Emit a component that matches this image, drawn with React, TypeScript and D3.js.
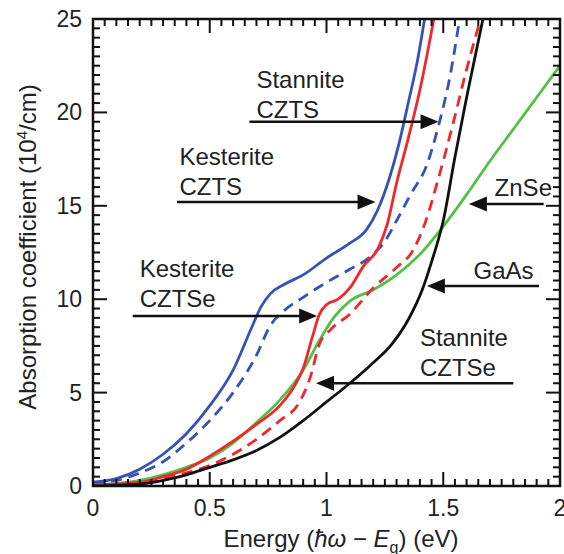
import React from 'react';
import * as d3 from 'd3';

// values (energy in eV, absorption in 10^4/cm)
const kesteriteCZTS: [number, number][] = [
  [0, 0.2], [0.1, 0.4], [0.2, 0.9], [0.3, 1.7], [0.4, 2.8], [0.5, 4.3], [0.6, 6.2],
  [0.68, 8.5], [0.72, 9.6], [0.76, 10.3], [0.82, 10.8], [0.9, 11.3], [1.0, 12.2],
  [1.1, 13.0], [1.17, 13.7], [1.22, 14.8], [1.27, 16.5], [1.31, 18.3], [1.35, 20.5],
  [1.39, 22.8], [1.42, 25],
];
const stanniteCZTS: [number, number][] = [
  [0, 0.15], [0.1, 0.3], [0.2, 0.7], [0.3, 1.3], [0.4, 2.3], [0.5, 3.5], [0.6, 5.0],
  [0.7, 7.0], [0.76, 8.6], [0.82, 9.4], [0.9, 10.1], [1.0, 10.9], [1.1, 11.6],
  [1.18, 12.2], [1.25, 13.1], [1.3, 14.2], [1.36, 15.6], [1.43, 17.2], [1.48, 19.3],
  [1.53, 22.0], [1.57, 25],
];
const kesteriteCZTSe: [number, number][] = [
  [0, 0.05], [0.2, 0.2], [0.3, 0.5], [0.4, 0.9], [0.5, 1.6], [0.6, 2.4], [0.7, 3.3],
  [0.8, 4.3], [0.86, 5.3], [0.9, 6.3], [0.94, 8.0], [0.97, 9.2], [1.0, 9.7],
  [1.05, 10.0], [1.1, 10.6], [1.16, 11.8], [1.22, 12.7], [1.26, 14.0], [1.3, 16.2],
  [1.35, 18.6], [1.4, 21.2], [1.46, 25],
];
const stanniteCZTSe: [number, number][] = [
  [0, 0], [0.2, 0.15], [0.3, 0.4], [0.4, 0.7], [0.5, 1.1], [0.6, 1.7], [0.7, 2.5],
  [0.8, 3.5], [0.88, 4.4], [0.93, 5.8], [0.97, 7.6], [1.02, 8.4], [1.1, 9.2],
  [1.2, 10.6], [1.3, 11.7], [1.37, 12.6], [1.42, 14.0], [1.48, 16.5], [1.54, 19.3],
  [1.6, 22.3], [1.66, 25],
];
const znse: [number, number][] = [
  [0, 0.05], [0.2, 0.3], [0.3, 0.6], [0.4, 1.0], [0.5, 1.5], [0.6, 2.3], [0.7, 3.4],
  [0.8, 4.6], [0.9, 6.2], [0.97, 7.8], [1.03, 9.0], [1.1, 9.9], [1.2, 10.5],
  [1.3, 11.3], [1.4, 12.4], [1.5, 13.9], [1.6, 15.6], [1.7, 17.4], [1.8, 19.1],
  [1.9, 20.8], [2.0, 22.5],
];
const gaas: [number, number][] = [
  [0, 0], [0.2, 0.1], [0.3, 0.3], [0.4, 0.6], [0.5, 1.0], [0.6, 1.4], [0.7, 1.9],
  [0.8, 2.6], [0.9, 3.5], [1.0, 4.5], [1.1, 5.5], [1.2, 6.6], [1.28, 7.6],
  [1.35, 8.9], [1.41, 10.5], [1.45, 12.0], [1.5, 14.2], [1.55, 17.6], [1.6, 20.8],
  [1.67, 25],
];

const xTickLabels = [0, 0.5, 1, 1.5, 2];
const yTickLabels = [0, 5, 10, 15, 20, 25];

// annotation labels: text lines, anchor (data), arrow tail and tip (data)
const annotations = [
  { lines: ['Stannite', 'CZTS'], at: [0.70, 21.3], tail: [0.67, 19.5], tip: [1.48, 19.5] },
  { lines: ['Kesterite', 'CZTS'], at: [0.37, 17.2], tail: [0.36, 15.2], tip: [1.21, 15.2] },
  { lines: ['Kesterite', 'CZTSe'], at: [0.20, 11.2], tail: [0.17, 9.1], tip: [0.96, 9.1] },
  { lines: ['ZnSe'], at: [1.72, 15.5], tail: [1.93, 15.1], tip: [1.61, 15.1] },
  { lines: ['GaAs'], at: [1.63, 11.1], tail: [1.91, 10.7], tip: [1.43, 10.7] },
  { lines: ['Stannite', 'CZTSe'], at: [1.40, 7.5], tail: [1.80, 5.5], tip: [0.955, 5.5] },
];

const series = [
  { data: kesteriteCZTS, color: '#3652b6', dash: '' },
  { data: stanniteCZTS, color: '#3652b6', dash: '11 7' },
  { data: znse, color: '#52c046', dash: '' },
  { data: kesteriteCZTSe, color: '#f0282c', dash: '' },
  { data: stanniteCZTSe, color: '#f0282c', dash: '11 7' },
  { data: gaas, color: '#111111', dash: '' },
];

const W = 564;
const H = 554;
const left = 93;
const right = 560;
const top = 19;
const bottom = 486;

export default function App() {
  const x = d3.scaleLinear().domain([0, 2]).range([left, right]);
  const y = d3.scaleLinear().domain([0, 25]).range([bottom, top]);
  const line = d3
    .line<[number, number]>()
    .x((d) => x(d[0]))
    .y((d) => y(d[1]))
    .curve(d3.curveMonotoneX);

  const font = 'Liberation Sans, Arial, Helvetica, sans-serif';
  const xMinor = x.ticks(40);
  const yMinor = y.ticks(50);

  return (
    <svg
      width={W}
      height={H}
      style={{ position: 'absolute', left: 0, top: 0, background: '#fff' }}
      fontFamily={font}
    >
      <defs>
        <clipPath id="plot">
          <rect x={left} y={top} width={right - left} height={bottom - top} />
        </clipPath>
      </defs>

      {/* curves */}
      <g clipPath="url(#plot)" fill="none">
        {series.map((s, i) => (
          <path
            key={i}
            d={line(s.data) ?? ''}
            stroke={s.color}
            strokeWidth={2.8}
            strokeDasharray={s.dash || undefined}
          />
        ))}
      </g>

      {/* ticks on all four sides, pointing inward */}
      <g stroke="#111" strokeWidth={2}>
        {xMinor.map((v) => {
          const len = xTickLabels.includes(+v.toFixed(2)) ? 14 : 7;
          return (
            <g key={'x' + v}>
              <line x1={x(v)} x2={x(v)} y1={bottom} y2={bottom - len} />
              <line x1={x(v)} x2={x(v)} y1={top} y2={top + len} />
            </g>
          );
        })}
        {yMinor.map((v) => {
          const len = yTickLabels.includes(+v.toFixed(2)) ? 14 : 7;
          return (
            <g key={'y' + v}>
              <line x1={left} x2={left + len} y1={y(v)} y2={y(v)} />
              <line x1={right} x2={right - len} y1={y(v)} y2={y(v)} />
            </g>
          );
        })}
      </g>
      <rect
        x={left}
        y={top}
        width={right - left}
        height={bottom - top}
        fill="none"
        stroke="#111"
        strokeWidth={2.5}
      />

      {/* tick labels */}
      <g fontSize={23} fill="#222">
        {xTickLabels.map((v) => (
          <text key={v} x={x(v)} y={bottom + 30} textAnchor="middle">
            {v}
          </text>
        ))}
        {yTickLabels.map((v) => (
          <text key={v} x={left - 11} y={y(v) + 8} textAnchor="end">
            {v}
          </text>
        ))}
      </g>

      {/* axis titles */}
      <text x={341} y={547} fontSize={24} textAnchor="middle" fill="#222">
        Energy (<tspan fontStyle="italic">ħω</tspan> − <tspan fontStyle="italic">E</tspan>
        <tspan fontSize={16} dy={6}>g</tspan>
        <tspan dy={-6}>) (eV)</tspan>
      </text>
      <text
        transform="translate(36,247) rotate(-90)"
        fontSize={24}
        textAnchor="middle"
        fill="#222"
      >
        Absorption coefficient (10<tspan fontSize={15} dy={-9}>4</tspan>
        <tspan dy={9}>/cm)</tspan>
      </text>

      {/* annotations */}
      <g fontSize={24} fill="#222">
        {annotations.map((a, i) => (
          <g key={i}>
            <text x={x(a.at[0])} y={y(a.at[1])}>
              {a.lines.map((l, j) => (
                <tspan key={j} x={x(a.at[0])} dy={j === 0 ? 0 : 30}>
                  {l}
                </tspan>
              ))}
            </text>
            <line
              x1={x(a.tail[0])}
              x2={x(a.tip[0]) + (a.tip[0] > a.tail[0] ? -14 : 14)}
              y1={y(a.tail[1])}
              y2={y(a.tip[1])}
              stroke="#111"
              strokeWidth={2.5}
            />
            <path
              d={(() => {
                const tx = x(a.tip[0]);
                const ty = y(a.tip[1]);
                const dir = a.tip[0] > a.tail[0] ? -1 : 1;
                return `M${tx},${ty} L${tx + dir * 18},${ty - 7.5} L${tx + dir * 18},${ty + 7.5} Z`;
              })()}
              fill="#111"
            />
          </g>
        ))}
      </g>
    </svg>
  );
}
